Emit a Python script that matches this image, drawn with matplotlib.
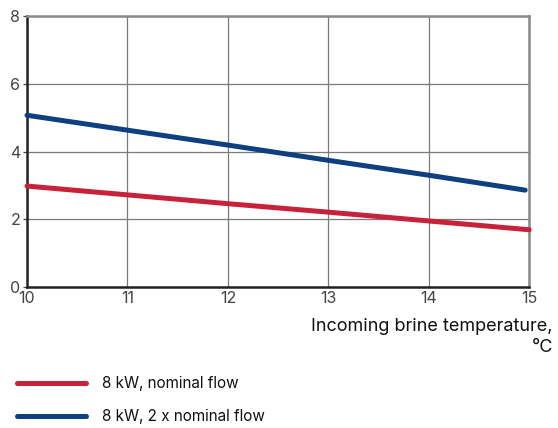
import matplotlib.pyplot as plt
from matplotlib.lines import Line2D

plt.rcParams['font.family'] = ['Inter', 'DejaVu Sans']

# brine temperature (C) and flow readings
temp = [10, 11, 12, 13, 14, 15]
nominal = [2.98, 2.72, 2.46, 2.21, 1.95, 1.69]
double_flow = [5.07, 4.63, 4.19, 3.74, 3.30, 2.86]
x_ticks = [10, 11, 12, 13, 14, 15]
y_ticks = [0, 2, 4, 6, 8]

red = '#c8213a'
blue = '#0e3f7e'

fig = plt.figure(figsize=(5.58, 4.28), dpi=100)
ax = fig.add_axes([0.0484, 0.3294, 0.9, 0.6332])

ax.plot(temp, nominal, color=red, lw=3.6, solid_capstyle='round', zorder=3, clip_on=False)
ax.plot(temp[:-1] + [14.96], double_flow, color=blue, lw=3.6, solid_capstyle='round', zorder=3, clip_on=False)

ax.set_xlim(10, 15)
ax.set_ylim(0, 8)
ax.set_xticks(x_ticks)
ax.set_yticks(y_ticks)
ax.grid(True, color='#7a7a7a', lw=0.9)
ax.set_axisbelow(True)

for s in ['left', 'bottom']:
    ax.spines[s].set_color('#222222')
    ax.spines[s].set_linewidth(1.8)
for s in ['top', 'right']:
    ax.spines[s].set_color('#8a8a8a')
    ax.spines[s].set_linewidth(1.8)

ax.tick_params(axis='both', labelsize=11.5, colors='#444444', length=3, width=0.9, pad=2)
ax.tick_params(axis='x', length=0, pad=3)

fig.text(0.991, 0.2126, 'Incoming brine temperature,\n°C', ha='right', va='center',
         fontsize=13, color='#111111', multialignment='right', linespacing=1.35)

# legend drawn by hand below the plot
leg_items = [(red, '8 kW, nominal flow', 0.105), (blue, '8 kW, 2 x nominal flow', 0.028)]
for c, lab, yy in leg_items:
    fig.add_artist(Line2D([0.031, 0.155], [yy, yy], color=c, lw=3.6, solid_capstyle='round'))
    fig.text(0.183, yy, lab, va='center', fontsize=11, color='#111111')

fig.savefig('out.png', dpi=100)
